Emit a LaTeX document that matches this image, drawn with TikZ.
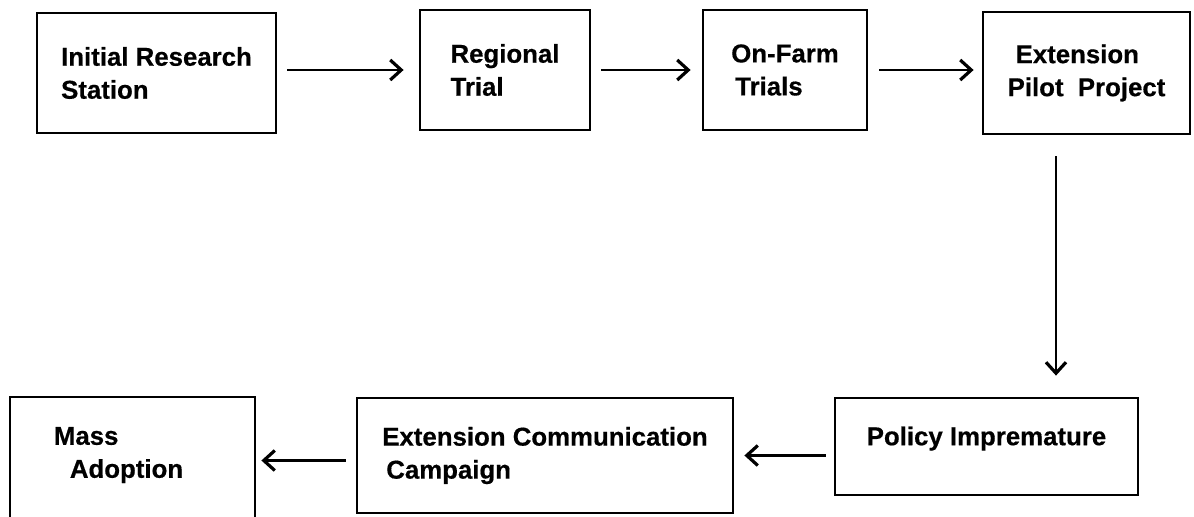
\documentclass[tikz,border=0pt]{standalone}
\usepackage{fontspec}
\setmainfont{Liberation Sans}
\newfontfamily\boxfont[FakeBold=0.5]{Liberation Sans Bold}
\usetikzlibrary{arrows.meta}
\begin{document}
\begin{tikzpicture}[x=0.5pt,y=-0.5pt,
  box/.style={draw, line width=1.4pt, align=left, inner sep=0pt,
    font=\boxfont\fontsize{12.9}{16.5}\selectfont},
  arr/.style={line width=1.3pt, -{Straight Barb[length=5.5pt,width=10pt,line width=1.6pt]}}]
\useasboundingbox (0,0) rectangle (1194,517);

\node[box, minimum width=119.5pt, minimum height=60pt] (init) at (156.5,73) {Initial Research\\Station};
\node[box, minimum width=85pt, minimum height=60pt] (reg) at (505,70) {Regional\\Trial};
\node[box, minimum width=82pt, minimum height=60pt] (farm) at (785,70) {On-Farm\\\hspace*{2pt}Trials};
\node[box, minimum width=103.5pt, minimum height=61pt] (pilot) at (1086.5,73) {\hspace*{4pt}Extension\\Pilot\ \ Project};

\node[box, minimum width=151.5pt, minimum height=48.5pt, text depth=10.6pt] (pol) at (986.5,446.5) {Policy Impremature};
\node[box, minimum width=188pt, minimum height=57.5pt] (ext) at (545,455.5) {Extension Communication\\\hspace*{2pt}Campaign};
\node[box, minimum width=122.5pt, minimum height=69pt, text depth=13.6pt] (mass) at (132.5,466) {Mass\\\hspace*{8pt}Adoption\hspace*{14pt}};

\draw[arr, shorten <=5pt, shorten >=7.5pt] (reg.west -| init.east) -- (reg.west);
\draw[arr, shorten <=5pt, shorten >=5.5pt] (reg.east) -- (farm.west);
\draw[arr, shorten <=5.5pt, shorten >=4pt] (farm.east) -- (farm.east -| pilot.west);
\draw[arr, shorten <=10.5pt, shorten >=10.5pt] ([xshift=-15.25pt]pilot.south) -- ([xshift=-15.25pt]pilot.south |- pol.north);
\draw[arr, shorten <=4pt, shorten >=5pt] (pol.west |- ext.east) -- (ext.east);
\draw[arr, shorten <=5pt, shorten >=2.5pt] ([yshift=-2.5pt]ext.west) -- ([yshift=-2.5pt]ext.west -| mass.east);
\end{tikzpicture}
\end{document}
